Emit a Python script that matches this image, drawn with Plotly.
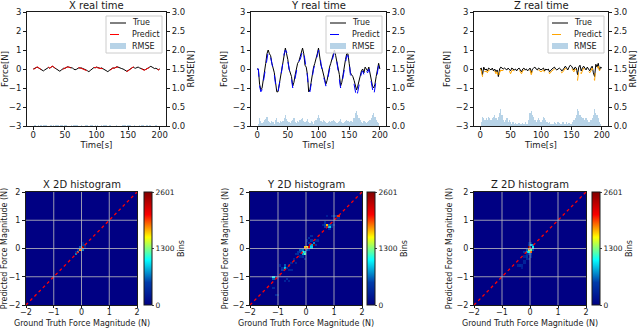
import plotly.graph_objects as go

W, H = 640, 328

# --- real-time traces (sampled every 2 s) ---
time_s = list(range(0, 201, 2))

x_true = [
    0.00, 0.03, 0.08, 0.10, 0.06, 0.03, -0.02, -0.07, -0.10, -0.05,
    0.00, 0.05, 0.08, 0.04, 0.12, 0.14, 0.10, 0.06, 0.02, -0.04,
    -0.08, -0.12, -0.06, 0.00, 0.04, 0.03, 0.06, 0.12, 0.10, 0.08,
    0.09, 0.05, 0.00, -0.04, -0.02, 0.04, 0.06, 0.05, 0.06, 0.03,
    0.01, -0.03, -0.06, -0.10, -0.14, -0.08, -0.02, 0.04, 0.08, 0.06,
    0.10, 0.08, 0.04, 0.03, 0.06, 0.02, -0.02, -0.06, -0.10, -0.14,
    -0.08, -0.02, 0.02, 0.06, 0.04, 0.07, 0.12, 0.10, 0.06, 0.04,
    0.02, 0.00, -0.04, -0.08, -0.12, -0.08, -0.03, 0.03, 0.08, 0.10,
    0.06, 0.04, 0.08, 0.10, 0.06, 0.03, 0.00, -0.03, -0.05, -0.02,
    0.04, 0.06, 0.10, 0.14, 0.10, 0.06, 0.02, 0.04, -0.02, -0.04,
    0.00,
]
x_pred = [
    0.00, 0.01, 0.06, 0.11, 0.08, 0.02, -0.04, -0.08, -0.12, -0.07,
    -0.02, 0.04, 0.09, 0.05, 0.10, 0.15, 0.12, 0.05, 0.00, -0.06,
    -0.10, -0.13, -0.08, -0.02, 0.03, 0.05, 0.08, 0.11, 0.11, 0.07,
    0.07, 0.04, -0.02, -0.06, -0.04, 0.02, 0.07, 0.06, 0.04, 0.02,
    0.00, -0.05, -0.08, -0.12, -0.15, -0.10, -0.04, 0.02, 0.07, 0.08,
    0.09, 0.06, 0.05, 0.02, 0.04, 0.01, -0.04, -0.08, -0.12, -0.15,
    -0.10, -0.04, 0.01, 0.05, 0.05, 0.08, 0.10, 0.11, 0.07, 0.03,
    0.01, -0.02, -0.06, -0.10, -0.13, -0.10, -0.05, 0.01, 0.07, 0.11,
    0.08, 0.03, 0.07, 0.11, 0.08, 0.02, -0.02, -0.05, -0.06, -0.03,
    0.02, 0.07, 0.09, 0.12, 0.11, 0.05, 0.01, 0.02, -0.03, -0.05,
    0.00,
]
x_rmse = [
    0.00, 0.02, 0.02, 0.01, 0.02, 0.01, 0.02, 0.01, 0.02, 0.02,
    0.02, 0.01, 0.01, 0.01, 0.02, 0.01, 0.02, 0.01, 0.02, 0.02,
    0.02, 0.01, 0.02, 0.02, 0.01, 0.02, 0.02, 0.01, 0.01, 0.01,
    0.02, 0.01, 0.02, 0.02, 0.02, 0.02, 0.01, 0.01, 0.02, 0.01,
    0.01, 0.02, 0.02, 0.02, 0.01, 0.02, 0.02, 0.02, 0.01, 0.02,
    0.01, 0.02, 0.01, 0.01, 0.02, 0.01, 0.02, 0.02, 0.02, 0.01,
    0.02, 0.02, 0.01, 0.01, 0.01, 0.01, 0.02, 0.01, 0.01, 0.01,
    0.01, 0.02, 0.02, 0.02, 0.01, 0.02, 0.02, 0.02, 0.01, 0.01,
    0.02, 0.01, 0.01, 0.01, 0.02, 0.01, 0.03, 0.02, 0.01, 0.01,
    0.02, 0.01, 0.03, 0.02, 0.01, 0.01, 0.01, 0.02, 0.01, 0.01,
    0.00,
]

y_true = [
    0.0, 0.0, -0.8, -1.1, -1.0, -0.6, -0.3, 0.3, 0.8, 1.0,
    0.8, 0.7, 0.3, 0.0, -0.2, -0.7, -1.2, -1.2, -0.8, -0.4,
    0.0, 0.5, 0.9, 1.1, 0.8, 0.5, 0.0, -0.2, -0.4, -0.9,
    -0.7, -0.3, 0.0, 0.3, 0.4, 0.6, 0.8, 1.1, 0.8, 0.2,
    0.1, -0.3, -1.2, -1.1, -0.7, -0.2, 0.1, 0.3, 0.5, 0.8,
    1.1, 0.6, 0.2, 0.0, -0.3, -0.5, -0.8, -0.6, -0.2, 0.1,
    0.3, 0.5, 0.8, 1.0, 0.7, 0.4, 0.0, -0.3, -0.9, -0.7,
    -0.3, 0.2, 0.5, 0.8, 0.8, 0.3, -0.2, -0.3, -0.4, -0.6,
    -0.9, -1.1, -0.9, -0.6, -0.3, -0.1, 0.0, -0.2, 0.1, 0.0,
    -0.1, 0.1, -0.3, -0.6, -0.9, -1.0, -0.8, -0.4, -0.1, 0.3,
    0.0,
]
y_pred = [
    0.0, 0.0, -0.9, -1.2, -1.1, -0.7, -0.3, 0.2, 0.7, 0.9,
    0.9, 0.6, 0.2, -0.1, -0.3, -0.8, -1.1, -1.2, -0.9, -0.5,
    -0.1, 0.4, 0.8, 1.0, 0.9, 0.4, -0.1, -0.3, -0.5, -1.0,
    -0.8, -0.4, -0.1, 0.2, 0.4, 0.5, 0.7, 1.0, 0.9, 0.3,
    0.0, -0.4, -1.1, -1.2, -0.8, -0.3, 0.0, 0.2, 0.4, 0.7,
    1.0, 0.8, 0.3, -0.1, -0.4, -0.6, -0.9, -0.7, -0.3, 0.0,
    0.2, 0.4, 0.7, 0.9, 0.8, 0.3, -0.1, -0.4, -1.0, -0.8,
    -0.4, 0.1, 0.4, 0.7, 0.7, 0.4, -0.3, -0.4, -0.5, -0.8,
    -1.2, -1.5, -1.2, -0.8, -0.4, -0.2, -0.1, -0.3, 0.0, -0.1,
    -0.2, 0.0, -0.4, -0.8, -1.1, -1.4, -1.0, -0.5, -0.2, 0.2,
    0.0,
]
y_rmse = [
    0.00, 0.05, 0.20, 0.12, 0.08, 0.10, 0.15, 0.18, 0.25, 0.12,
    0.10, 0.08, 0.12, 0.10, 0.06, 0.15, 0.20, 0.10, 0.08, 0.12,
    0.10, 0.14, 0.22, 0.30, 0.18, 0.12, 0.10, 0.08, 0.12, 0.16,
    0.20, 0.10, 0.08, 0.12, 0.10, 0.15, 0.18, 0.22, 0.14, 0.10,
    0.12, 0.18, 0.10, 0.08, 0.12, 0.10, 0.06, 0.12, 0.16, 0.20,
    0.28, 0.20, 0.12, 0.10, 0.15, 0.12, 0.10, 0.08, 0.10, 0.12,
    0.10, 0.12, 0.16, 0.12, 0.10, 0.08, 0.10, 0.12, 0.18, 0.10,
    0.08, 0.10, 0.12, 0.15, 0.12, 0.10, 0.14, 0.12, 0.10, 0.20,
    0.35, 0.40, 0.30, 0.22, 0.15, 0.10, 0.08, 0.12, 0.10, 0.08,
    0.10, 0.12, 0.15, 0.22, 0.28, 0.35, 0.25, 0.15, 0.10, 0.08,
    0.00,
]

z_true = [
    0.00, 0.05, -0.30, 0.10, -0.05, 0.00, -0.10, 0.05, 0.00, -0.05,
    0.05, -0.10, 0.00, -0.15, -0.05, -0.40, 0.00, 0.10, 0.05, 0.00,
    0.05, 0.00, -0.05, 0.05, 0.00, -0.10, 0.05, 0.00, -0.05, 0.00,
    -0.10, 0.00, 0.05, -0.05, -0.15, 0.00, 0.05, -0.05, 0.00, -0.10,
    -0.05, 0.05, -0.20, 0.00, 0.05, 0.10, 0.00, -0.05, 0.05, 0.00,
    -0.05, 0.00, 0.05, -0.10, 0.00, -0.05, 0.00, -0.15, -0.05, 0.00,
    0.05, 0.10, 0.00, -0.05, 0.00, 0.05, 0.00, -0.10, -0.05, 0.05,
    0.15, 0.05, -0.05, 0.10, 0.20, 0.15, 0.00, -0.05, 0.10, 0.05,
    -0.30, 0.10, 0.20, -0.10, 0.05, 0.15, 0.05, -0.05, 0.10, 0.00,
    -0.10, 0.05, 0.15, -0.20, -0.40, 0.25, 0.10, 0.30, -0.05, 0.10,
    0.05,
]
z_pred = [
    0.00, -0.10, -0.40, 0.00, -0.15, -0.10, -0.20, -0.05, -0.10, -0.15,
    -0.05, -0.20, -0.10, -0.25, -0.15, -0.55, -0.20, -0.05, -0.10, -0.05,
    -0.10, -0.15, -0.20, -0.05, -0.10, -0.25, -0.10, -0.05, -0.15, -0.10,
    -0.20, -0.10, -0.05, -0.15, -0.25, -0.10, -0.05, -0.15, -0.10, -0.20,
    -0.15, -0.05, -0.30, -0.10, -0.05, 0.00, -0.10, -0.15, -0.05, -0.10,
    -0.15, -0.10, -0.05, -0.20, -0.10, -0.15, -0.05, -0.25, -0.15, -0.10,
    -0.05, 0.00, -0.10, -0.15, -0.10, -0.05, -0.10, -0.20, -0.15, -0.05,
    0.05, -0.05, -0.10, 0.00, 0.10, 0.05, -0.10, -0.15, 0.00, -0.05,
    -0.60, -0.10, 0.05, -0.25, -0.10, 0.05, -0.05, -0.15, 0.00, -0.10,
    -0.20, -0.10, 0.05, -0.35, -0.60, 0.10, 0.00, 0.15, -0.10, 0.05,
    0.00,
]
z_rmse = [
    0.00, 0.10, 0.25, 0.20, 0.15, 0.20, 0.15, 0.25, 0.20, 0.15,
    0.20, 0.25, 0.30, 0.20, 0.15, 0.25, 0.35, 0.45, 0.30, 0.15,
    0.10, 0.15, 0.20, 0.10, 0.15, 0.10, 0.05, 0.10, 0.05, 0.08,
    0.05, 0.05, 0.08, 0.05, 0.05, 0.08, 0.05, 0.10, 0.05, 0.05,
    0.15, 0.35, 0.40, 0.30, 0.25, 0.15, 0.10, 0.15, 0.20, 0.15,
    0.10, 0.15, 0.25, 0.20, 0.15, 0.10, 0.08, 0.10, 0.05, 0.05,
    0.05, 0.10, 0.08, 0.05, 0.10, 0.08, 0.05, 0.05, 0.10, 0.05,
    0.05, 0.10, 0.05, 0.08, 0.05, 0.05, 0.10, 0.15, 0.20, 0.30,
    0.45, 0.40, 0.30, 0.25, 0.20, 0.20, 0.15, 0.20, 0.15, 0.10,
    0.10, 0.15, 0.20, 0.30, 0.45, 0.35, 0.30, 0.20, 0.10, 0.05,
    0.00,
]

# --- 2D histogram non-empty cells: ground truth, predicted, count ---
x_hist_gt = [0.04, -0.04, -0.04, 0.04, 0.12, 0.12, -0.12, -0.12, -0.20, 0.04, -0.20, 0.04]
x_hist_pred = [0.04, -0.04, 0.04, 0.12, 0.12, 0.04, -0.12, -0.04, -0.20, -0.04, -0.12, 0.20]
x_hist_count = [2601, 1800, 600, 400, 500, 300, 900, 400, 700, 700, 350, 300]

y_hist_gt = [
    1.16, 1.08, 1.00, 0.92, 0.76, 1.16, 0.76, 0.68, 0.84, 0.76, 0.92, 1.00, 0.68, 0.84,
    0.28, 0.12, 0.04, -0.04, -0.12, -0.04, -0.04, -0.12, -0.20, -0.28, -0.36, 0.12,
    0.20, 0.20, 0.12, 0.20, 0.36, 0.44, 0.04, -0.04, -0.12, -0.20, 0.04, 0.12,
    -0.76, -0.68, -0.84, -0.60, -0.52, -0.60, -0.92, -0.44, -0.52, -1.16, -1.16,
    -1.08, -0.68, -0.60, -0.76, -1.16, -1.08, -1.00, -0.92,
    0.60, 0.68, 0.84, 0.92, 1.08, 0.28, 0.36, -0.20, -0.28, -0.44, -0.36, -0.84,
    -0.76, -1.24, -0.12, 0.20,
]
y_hist_pred = [
    1.16, 1.16, 1.16, 1.16, 1.16, 1.08, 0.84, 0.84, 0.76, 0.76, 0.84, 0.84, 0.92, 0.68,
    0.12, 0.04, 0.04, 0.04, -0.12, -0.12, -0.20, -0.04, -0.12, -0.20, -0.20, 0.20,
    0.12, 0.28, 0.36, 0.44, 0.28, 0.28, 0.28, -0.36, -0.28, -0.28, -0.04, -0.04,
    -0.68, -0.68, -0.76, -0.60, -0.52, -0.76, -0.60, -0.44, -0.76, -1.00, -1.08,
    -1.00, -1.08, -1.16, -1.16, -1.40, -1.64, -1.64, -0.92,
    0.84, 0.76, 0.84, 0.76, 1.16, 0.20, 0.12, -0.04, -0.12, -0.36, -0.52, -0.68,
    -0.60, -1.00, -0.20, 0.04,
]
y_hist_count = [
    2000, 900, 400, 300, 250, 400, 1700, 500, 900, 600, 400, 350, 400, 400,
    2601, 2200, 1500, 1700, 1100, 900, 1200, 700, 500, 400, 350, 500,
    800, 400, 400, 350, 300, 350, 300, 350, 400, 300, 600, 400,
    900, 400, 500, 350, 300, 300, 300, 300, 300, 1000, 600,
    300, 400, 300, 300, 350, 350, 300, 250,
    300, 500, 600, 300, 500, 700, 400, 600, 400, 300, 300, 350,
    600, 300, 800, 900,
]

z_hist_gt = [
    -0.04, 0.04, 0.12, 0.12, 0.04, 0.04, -0.04, -0.12, -0.12, -0.04, -0.04, 0.04,
    -0.04, -0.12, -0.12, -0.20, 0.04, -0.04, -0.12, -0.20, -0.28, -0.36, -0.44, -0.28, -0.20,
    0.12, -0.20, 0.04, -0.04,
]
z_hist_pred = [
    0.04, 0.12, 0.04, 0.12, -0.04, -0.12, -0.04, -0.04, -0.12, 0.12, 0.20, 0.20,
    -0.20, -0.20, -0.28, -0.28, -0.28, -0.36, -0.36, -0.44, -0.60, -0.60, -0.60, -0.68, -0.52,
    -0.04, -0.12, -0.20, -0.12,
]
z_hist_count = [
    2601, 900, 1000, 800, 1300, 1900, 1400, 600, 900, 400, 300, 350,
    500, 400, 450, 300, 350, 300, 350, 300, 300, 350, 300, 250, 300,
    600, 400, 500, 1000,
]

hist_range = [-2, 2]
n_bins = 50
count_max = 2601
hist_ticks = [-2, -1, 0, 1, 2]
force_ticks = [-3, -2, -1, 0, 1, 2, 3]
rmse_ticks = [0.0, 0.5, 1.0, 1.5, 2.0, 2.5, 3.0]
time_ticks = [0, 50, 100, 150, 200]
legend_labels = ["True", "Predict", "RMSE"]

FONT = "DejaVu Sans"
INK = "#1a1a1a"
RMSE_FILL = "rgba(31,119,180,0.32)"


def px(x):
    return x / W


def py(y):
    return 1 - y / H


def hist_grid(gt, pred, count):
    bw = (hist_range[1] - hist_range[0]) / n_bins
    z = [[0] * n_bins for _ in range(n_bins)]
    for g, p, c in zip(gt, pred, count):
        z[int((p - hist_range[0]) / bw)][int((g - hist_range[0]) / bw)] = c
    return z


bw = (hist_range[1] - hist_range[0]) / n_bins
centers = [hist_range[0] + bw * (i + 0.5) for i in range(n_bins)]

top_panels = [
    ("X real time", x_true, x_pred, x_rmse, "red", (27, 166)),
    ("Y real time", y_true, y_pred, y_rmse, "blue", (251, 386)),
    ("Z real time", z_true, z_pred, z_rmse, "orange", (474, 608)),
]
hist_panels = [
    ("X 2D histogram", x_hist_gt, x_hist_pred, x_hist_count, (26, 137), 144),
    ("Y 2D histogram", y_hist_gt, y_hist_pred, y_hist_count, (250, 362), 367),
    ("Z 2D histogram", z_hist_gt, z_hist_pred, z_hist_count, (474, 586), 592),
]
TOP_Y = (12, 126)
BOT_Y = (192, 305)

fig = go.Figure()
layout = {}
annotations = []
shapes = []

axis_common = dict(
    showline=True, linecolor=INK, linewidth=1, ticks="outside", ticklen=3,
    tickcolor=INK, tickfont=dict(size=8.5, color=INK), showgrid=False,
    zeroline=False, automargin=False,
)


def add_legend(right, top, color):
    # matplotlib-style legend box drawn with shapes and annotations
    left, bottom = right - 56, top + 37
    shapes.append(dict(type="rect", xref="paper", yref="paper", x0=px(left), x1=px(right),
                       y0=py(bottom), y1=py(top), fillcolor="rgba(255,255,255,0.8)",
                       line=dict(color="#cccccc", width=1), layer="above"))
    for k, label in enumerate(legend_labels):
        row = top + 7 + k * 11.5
        if label == "RMSE":
            shapes.append(dict(type="rect", xref="paper", yref="paper", x0=px(left + 4),
                               x1=px(left + 20), y0=py(row + 3), y1=py(row - 3),
                               fillcolor=RMSE_FILL, line=dict(width=0), layer="above"))
        else:
            shapes.append(dict(type="line", xref="paper", yref="paper", x0=px(left + 4),
                               x1=px(left + 20), y0=py(row), y1=py(row), layer="above",
                               line=dict(color="black" if label == "True" else color, width=1,
                                         dash="solid" if label == "True" else "dash")))
        annotations.append(dict(text=label, x=px(left + 24), y=py(row), xref="paper",
                                yref="paper", xanchor="left", yanchor="middle",
                                showarrow=False, font=dict(size=8, color=INK)))


for i, (title, true_v, pred_v, rmse_v, color, (xl, xr)) in enumerate(top_panels):
    n = i + 1
    xa, ya_rmse, ya_force = f"x{n}", f"y{n}", f"y{n + 3}"

    fig.add_trace(go.Bar(
        x=time_s, y=rmse_v, width=2, marker=dict(color=RMSE_FILL, line=dict(width=0)),
        name="RMSE", xaxis=xa, yaxis=ya_rmse, showlegend=False,
    ))
    fig.add_trace(go.Scatter(
        x=time_s, y=true_v, mode="lines", line=dict(color="black", width=1),
        name="True", xaxis=xa, yaxis=ya_force, showlegend=False,
    ))
    fig.add_trace(go.Scatter(
        x=time_s, y=pred_v, mode="lines", line=dict(color=color, width=1, dash="dash"),
        name="Predict", xaxis=xa, yaxis=ya_force, showlegend=False,
    ))

    layout[f"xaxis{n}"] = dict(
        axis_common, domain=[px(xl), px(xr)], anchor=ya_rmse, range=[-10, 210],
        tickvals=time_ticks, mirror=True, ticklabelstandoff=-2,
        title=dict(text="Time[s]", font=dict(size=8.5, color=INK), standoff=0),
    )
    layout[f"yaxis{n}"] = dict(
        axis_common, domain=[py(TOP_Y[1]), py(TOP_Y[0])], anchor=xa, side="right",
        range=[0, 3], tickvals=rmse_ticks, tickformat=".1f",
        title=dict(text="RMSE[N]", font=dict(size=8.5, color=INK), standoff=3),
    )
    layout[f"yaxis{n + 3}"] = dict(
        axis_common, overlaying=ya_rmse, anchor=xa, side="left", range=[-3, 3],
        tickvals=force_ticks,
        title=dict(text="Force[N]", font=dict(size=8.5, color=INK), standoff=3),
    )
    add_legend(xr - 4, 16, color)
    annotations.append(dict(
        text=title, x=px((xl + xr) / 2), y=py(5), xref="paper", yref="paper",
        xanchor="center", yanchor="middle", showarrow=False,
        font=dict(size=10, color=INK),
    ))

for i, (title, gt, pred, count, (xl, xr), cb_left) in enumerate(hist_panels):
    n = i + 4
    xa, ya = f"x{n}", f"y{n + 3}"
    fig.add_trace(go.Heatmap(
        x=centers, y=centers, z=hist_grid(gt, pred, count), colorscale="Jet",
        zmin=0, zmax=count_max, xaxis=xa, yaxis=ya,
        colorbar=dict(
            x=px(cb_left), xanchor="left", xpad=0, y=py(BOT_Y[0]), yanchor="top",
            ypad=0, len=(BOT_Y[1] - BOT_Y[0]) / H, lenmode="fraction", thickness=8,
            outlinewidth=1, outlinecolor=INK, tickvals=[0, 1300, count_max],
            ticks="outside", ticklen=2, tickfont=dict(size=7.5, color=INK),
            title=dict(text="Bins", side="right", font=dict(size=8, color=INK)),
        ),
        hoverinfo="skip",
    ))
    fig.add_trace(go.Scatter(
        x=hist_range, y=hist_range, mode="lines",
        line=dict(color="red", width=1.3, dash="dot"),
        xaxis=xa, yaxis=ya, showlegend=False,
    ))
    layout[f"xaxis{n}"] = dict(
        axis_common, domain=[px(xl), px(xr)], anchor=ya, range=hist_range,
        tickvals=hist_ticks, mirror=True, ticklen=2, ticklabelstandoff=-3,
        tickfont=dict(size=8, color=INK),
    )
    layout[f"yaxis{n + 3}"] = dict(
        axis_common, domain=[py(BOT_Y[1]), py(BOT_Y[0])], anchor=xa, range=hist_range,
        tickvals=hist_ticks, mirror=True, tickfont=dict(size=8, color=INK),
        title=dict(text="Predicted Force Magnitude (N)", font=dict(size=8, color=INK),
                   standoff=2),
    )
    for v in hist_ticks[1:-1]:
        shapes.append(dict(type="line", xref=xa, yref=f"{ya} domain", x0=v, x1=v, y0=0, y1=1,
                           line=dict(color="rgba(190,190,190,0.8)", width=1), layer="above"))
        shapes.append(dict(type="line", xref=f"{xa} domain", yref=ya, x0=0, x1=1, y0=v, y1=v,
                           line=dict(color="rgba(190,190,190,0.8)", width=1), layer="above"))
    annotations.append(dict(
        text=title, x=px((xl + xr) / 2), y=py(184), xref="paper", yref="paper",
        xanchor="center", yanchor="middle", showarrow=False,
        font=dict(size=10, color=INK),
    ))
    annotations.append(dict(
        text="Ground Truth Force Magnitude (N)", x=px((xl + xr) / 2), y=py(323),
        xref="paper", yref="paper", xanchor="center", yanchor="middle",
        showarrow=False, font=dict(size=8, color=INK),
    ))

fig.update_layout(
    template="none", width=W, height=H, margin=dict(l=0, r=0, t=0, b=0),
    paper_bgcolor="white", plot_bgcolor="white", showlegend=False,
    font=dict(family=FONT, size=8.5, color=INK),
    bargap=0, annotations=annotations, shapes=shapes, **layout,
)

# drop the default page margin so the 640x328 figure fills the window
fig.write_html("out.html", config={"displayModeBar": False},
               post_script="document.body.style.margin='0';")
